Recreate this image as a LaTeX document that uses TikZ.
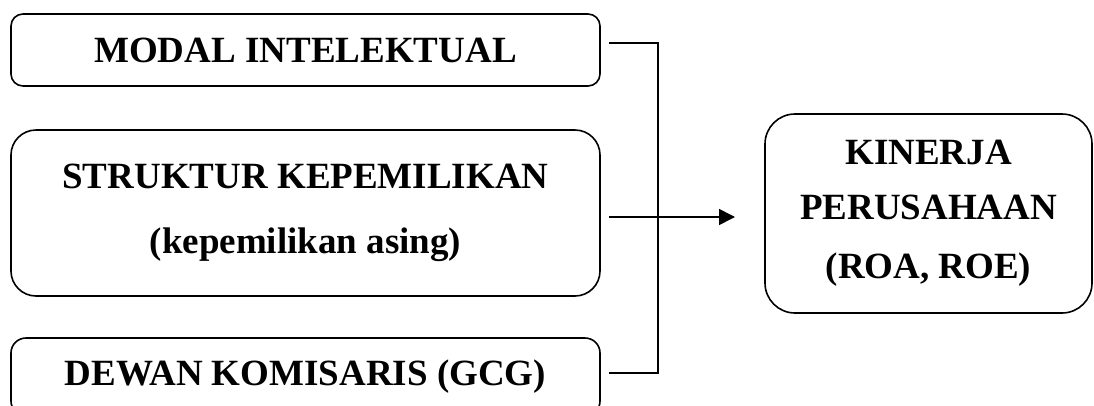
\documentclass[tikz,border=0pt]{standalone}
\usepackage{fontspec}
\setmainfont{Liberation Serif}
\usetikzlibrary{arrows.meta}
\begin{document}
\begin{tikzpicture}[x=1pt,y=-1pt,
  box/.style={draw,line width=1.6pt,inner sep=0pt,align=center,
    font=\fontsize{37}{55}\selectfont\bfseries},
  conn/.style={line width=1.6pt}]
\useasboundingbox (0,0) rectangle (1094,405);
\node[box,rounded corners=12pt,minimum width=589pt,minimum height=72pt] (mi) at (305.5,50) {MODAL INTELEKTUAL};
\node[box,rounded corners=25pt,minimum width=589pt,minimum height=166pt,
  font=\fontsize{37}{65}\selectfont\bfseries] (sk) at (305.5,213) {STRUKTUR KEPEMILIKAN\\(kepemilikan asing)};
\node[box,rounded corners=15pt,minimum width=589pt,minimum height=78pt] (dk) at (305.5,377) {DEWAN KOMISARIS (GCG)};
\node[box,rounded corners=30pt,minimum width=327pt,minimum height=199pt] (kp) at (928.5,213.5) {KINERJA\\PERUSAHAAN\\[4pt](ROA, ROE)};
\coordinate (j1) at (609,43);
\coordinate (c1) at (658,43);
\coordinate (j3) at (609,373);
\coordinate (c3) at (658,373);
\coordinate (a0) at (609,217);
\coordinate (tip) at (735,217);
\draw[conn] (j1) -- (c1) -- (c3) -- (j3);
\draw[conn,-{Triangle[length=16pt,width=16pt]}] (a0) -- (tip);
\end{tikzpicture}
\end{document}
